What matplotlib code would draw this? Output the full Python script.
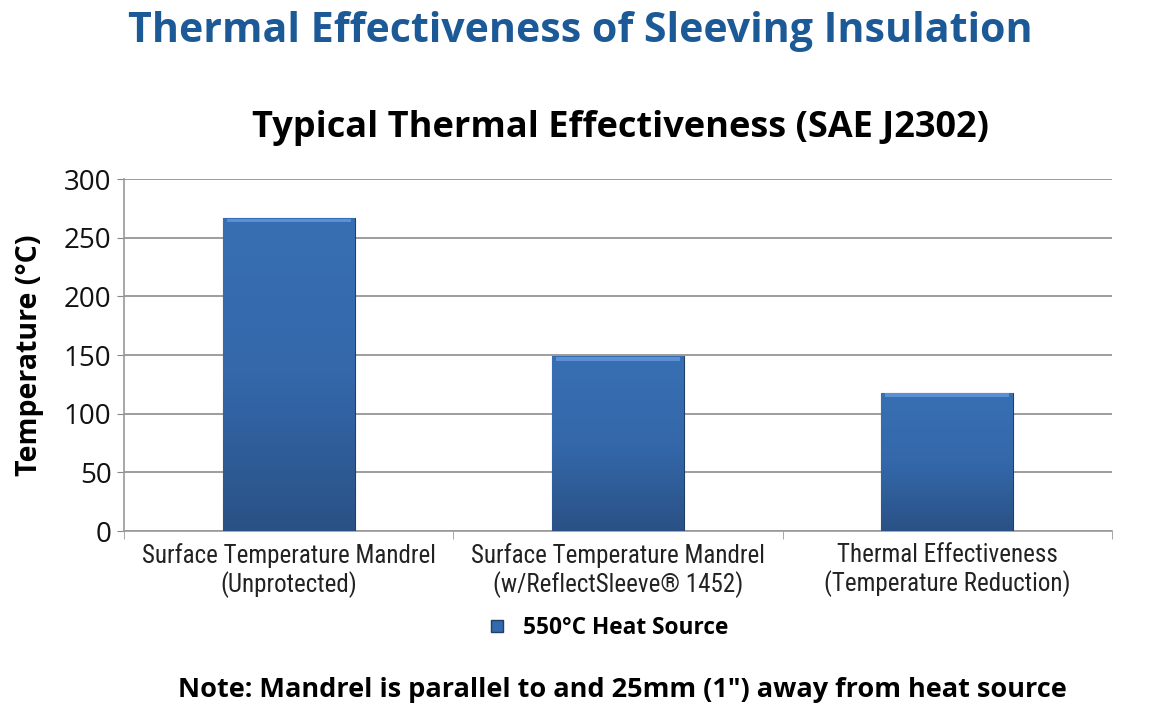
import matplotlib
matplotlib.use("Agg")
import matplotlib.pyplot as plt
import numpy as np
from matplotlib.patches import Patch
from matplotlib import font_manager
from matplotlib.colors import LinearSegmentedColormap

categories = ["Surface Temperature Mandrel\n(Unprotected)",
              "Surface Temperature Mandrel\n(w/ReflectSleeve® 1452)",
              "Thermal Effectiveness\n(Temperature Reduction)"]
values = [267, 149, 118]
yticks = [0, 50, 100, 150, 200, 250, 300]
series_name = "550°C Heat Source"

def pick(names):
    avail = {f.name for f in font_manager.fontManager.ttflist}
    for n in names:
        if n in avail:
            return n
    return "DejaVu Sans"

main_font = pick(["Open Sans", "Noto Sans", "DejaVu Sans"])
narrow_font = pick(["Liberation Sans Narrow", "Roboto Condensed", "Open Sans"])

fig = plt.figure(figsize=(11.49, 7.28), dpi=100)
ax = fig.add_axes([124/1149, 1-531/728, (1112-124)/1149, (531-179)/728])

x = np.arange(len(values))
bw = 0.4
bars = ax.bar(x, values, width=bw, color="#3369ad", edgecolor="#1f3f66", linewidth=0.8, zorder=3)

grad = np.linspace(0, 1, 256).reshape(-1, 1)
cmap = LinearSegmentedColormap.from_list("b", ["#2a5185", "#3468ab", "#386fb3"])
for b in bars:
    x0, y0 = b.get_x(), b.get_y()
    w, h = b.get_width(), b.get_height()
    im = ax.imshow(grad, extent=[x0, x0 + w, y0, y0 + h], origin="lower",
                   cmap=cmap, aspect="auto", zorder=3.5)
    im.set_clip_path(b)
    ax.fill_between([x0 + 0.012, x0 + w - 0.012], y0 + h - 4.0, y0 + h - 0.8,
                    color="#5b90d4", zorder=3.6, linewidth=0)

ax.set_xlim(-0.5, len(values) - 0.5)
ax.set_ylim(0, 300)
ax.set_yticks(yticks)
ax.set_yticklabels([str(t) for t in yticks], fontsize=20, family=main_font, color="#111111")
ax.set_xticks(x)
ax.set_xticklabels(categories, fontsize=18, family=narrow_font, color="#222222", linespacing=1.15)
ax.tick_params(axis="x", length=0, pad=9)
ax.tick_params(axis="y", length=5, color="#888888", direction="out", pad=4)
ax.set_xticks([-0.5, 0.5, 1.5, 2.5], minor=True)
ax.tick_params(axis="x", which="minor", length=6, color="#999999", direction="out")

ax.grid(axis="y", color="#8c8c8c", linewidth=1.2, zorder=0)
for s in ["top", "right"]:
    ax.spines[s].set_visible(False)
ax.spines["left"].set_color("#999999")
ax.spines["bottom"].set_color("#999999")
ax.spines["left"].set_linewidth(1.2)
ax.spines["bottom"].set_linewidth(1.2)

ax.set_ylabel("Temperature (°C)", fontsize=20.5, fontweight="bold", family=main_font, labelpad=14)

fig.text(580/1149, 1-32/728, "Thermal Effectiveness of Sleeving Insulation",
         ha="center", va="center", fontsize=29.6, fontweight="bold", color="#1c5a97", family=main_font)
fig.text(620/1149, 1-128/728, "Typical Thermal Effectiveness (SAE J2302)",
         ha="center", va="center", fontsize=26, fontweight="bold", color="black", family=main_font)
fig.text(622/1149, 1-690/728, "Note: Mandrel is parallel to and 25mm (1\") away from heat source",
         ha="center", va="center", fontsize=19.5, fontweight="bold", color="black", family=main_font)

leg = fig.legend(handles=[Patch(facecolor="#3369ad", edgecolor="#1f3f66", label=series_name)],
                 loc="center", bbox_to_anchor=(610/1149, 1-628/728), frameon=False,
                 prop={"family": main_font, "weight": "bold", "size": 16.3},
                 handlelength=0.5, handleheight=0.5, handletextpad=0.9)

fig.savefig("out.png", dpi=100)
